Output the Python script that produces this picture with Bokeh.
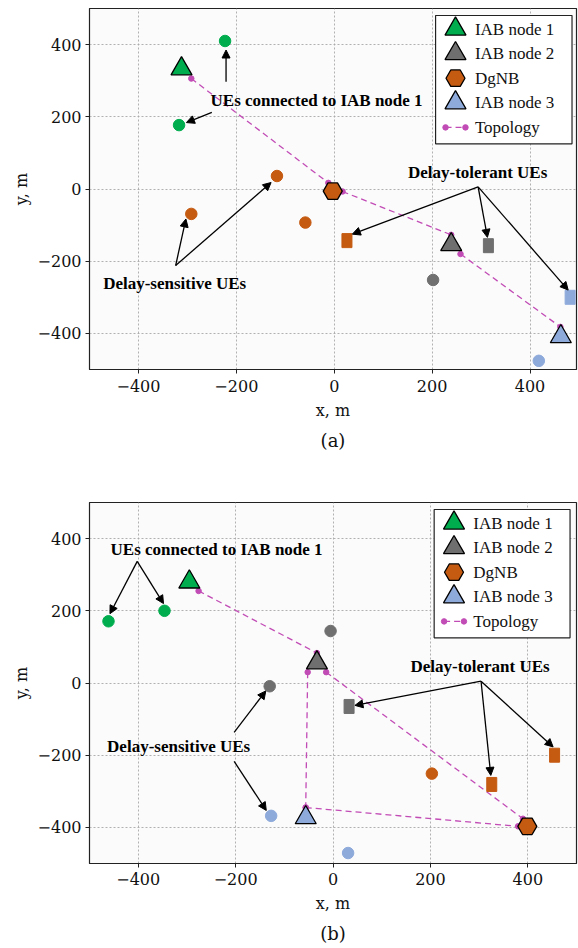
import numpy as np
from bokeh.plotting import figure
from bokeh.layouts import column
from bokeh.models import (ColumnDataSource, Arrow, NormalHead, Range1d, Title,
                          FixedTicker)
from bokeh.core.properties import value
from bokeh.embed import file_html
from bokeh.resources import INLINE

GREEN = "#00ad4e"
GRAY = "#6f6f6f"
ORANGE = "#c55a11"
BLUE = "#8eaadb"
TOPO = "#c24cb6"

TICKS = [-400, -200, 0, 200, 400]

# ---------------- panel (a) ----------------
a_node_names = ["IAB node 1", "IAB node 2", "DgNB", "IAB node 3"]
a_node_x = [-312, 239, -3, 463]
a_node_y = [333, -154, -6, -409]

a_circle_x = [-223, -317, -117, -292, -59, 202, 418]
a_circle_y = [410, 177, 36, -69, -93, -252, -476]
a_circle_c = [GREEN, GREEN, ORANGE, ORANGE, ORANGE, GRAY, BLUE]

a_square_x = [26, 315, 482]
a_square_y = [-143, -157, -300]
a_square_c = [ORANGE, GRAY, BLUE]

a_topo_x0 = [-292, 17, 258]
a_topo_y0 = [306, -7, -180]
a_topo_x1 = [-12, 239, 462]
a_topo_y1 = [17, -127, -382]

a_ann_text = ["UEs connected to IAB node 1", "Delay-sensitive UEs", "Delay-tolerant UEs"]
a_ann_x = [-36, -326, 293]
a_ann_y = [244, -262, 46]

a_arrow_x0 = [-221, -250, -324, -324, 294, 294, 294]
a_arrow_y0 = [297, 212, -212, -212, 6, 6, 6]
a_arrow_x1 = [-221, -302, -303, -129, 37, 313, 478]
a_arrow_y1 = [385, 184, -83, 18, -125, -134, -280]

# ---------------- panel (b) ----------------
b_node_names = ["IAB node 1", "IAB node 2", "DgNB", "IAB node 3"]
b_node_x = [-295, -33, 399, -56]
b_node_y = [280, 56, -397, -373]

b_circle_x = [-461, -346, -130, -5, 203, -127, 31]
b_circle_y = [171, 200, -9, 144, -251, -368, -471]
b_circle_c = [GREEN, GREEN, GRAY, GRAY, ORANGE, BLUE, BLUE]

b_square_x = [33, 326, 455]
b_square_y = [-65, -281, -200]
b_square_c = [GRAY, ORANGE, ORANGE]

b_topo_x0 = [-276, -14, -52, -56]
b_topo_y0 = [255, 30, 30, -345]
b_topo_x1 = [-33, 390, -56, 380]
b_topo_y1 = [83, -376, -345, -397]

b_ann_text = ["UEs connected to IAB node 1", "Delay-sensitive UEs", "Delay-tolerant UEs"]
b_ann_x = [-239, -317, 302]
b_ann_y = [370, -175, 47]

b_arrow_x0 = [-402, -402, -203, -203, 304, 304, 304]
b_arrow_y0 = [337, 337, -137, -217, 5, 5, 5]
b_arrow_x1 = [-458, -348, -138, -137, 45, 324, 452]
b_arrow_y1 = [192, 220, -22, -353, -62, -256, -177]

LEGEND_LABELS = ["IAB node 1", "IAB node 2", "DgNB", "IAB node 3", "Topology"]
NODE_COLORS = [GREEN, GRAY, ORANGE, BLUE]
NODE_MARKERS = ["triangle", "triangle", "hex", "triangle"]
NODE_SIZES = [21, 21, 19, 21]

SERIF_TICK = "DejaVu Serif"
SERIF_TXT = "Liberation Serif"


def make_panel(node_x, node_y, circ_x, circ_y, circ_c, sq_x, sq_y, sq_c,
               tx0, ty0, tx1, ty1, ann_text, ann_x, ann_y,
               ax0, ay0, ax1, ay1, caption,
               width, height, bl, bt, fw, fh, x_end,
               lab_so, axlab_so, cap_so):
    p = figure(width=width, height=height,
               x_range=Range1d(-500, x_end), y_range=Range1d(-500, 500),
               output_backend="svg", toolbar_location=None,
               min_border_left=bl, min_border_right=width - bl - fw,
               min_border_top=bt, min_border_bottom=height - bt - fh)
    p.extra_x_ranges = {"px": Range1d(0, fw)}
    p.extra_y_ranges = {"py": Range1d(0, fh)}
    p.background_fill_color = "#fbfbfb"
    p.border_fill_color = "white"
    p.outline_line_color = "#222222"
    p.outline_line_width = 1.2

    for ax in (p.xaxis[0], p.yaxis[0]):
        ax.ticker = FixedTicker(ticks=TICKS)
        ax.major_label_text_font = SERIF_TICK
        ax.major_label_text_font_size = "16px"
        ax.major_label_text_color = "#111111"
        ax.axis_label_text_font = SERIF_TICK
        ax.axis_label_text_font_size = "16px"
        ax.axis_label_text_font_style = "normal"
        ax.axis_label_text_color = "#111111"
        ax.major_tick_in = 0
        ax.major_tick_out = 4
        ax.minor_tick_line_color = None
        ax.axis_line_color = "#222222"
        ax.major_tick_line_color = "#222222"
        ax.major_label_standoff = 4
        ax.axis_label_standoff = 4
    p.xaxis[0].major_label_standoff = lab_so
    p.xaxis[0].axis_label_standoff = axlab_so
    p.xaxis[0].axis_label = "x, m"
    p.yaxis[0].axis_label = "y, m"
    p.yaxis[0].major_label_orientation = "horizontal"
    p.xaxis[0].major_label_overrides = {t: str(t).replace("-", "\u2212") for t in TICKS}
    p.yaxis[0].major_label_overrides = {t: str(t).replace("-", "\u2212") for t in TICKS}

    for g in (p.xgrid[0], p.ygrid[0]):
        g.ticker = FixedTicker(ticks=TICKS)
        g.grid_line_color = "#a8a8a8"
        g.grid_line_dash = "2 2"
        g.grid_line_width = 0.9

    # topology
    for i in range(len(tx0)):
        p.line([tx0[i], tx1[i]], [ty0[i], ty1[i]], line_color=TOPO,
               line_width=1.3, line_dash="6 4")
    p.scatter(tx0 + tx1, ty0 + ty1, size=5.5, fill_color=TOPO, line_color=TOPO)

    # nodes
    p.scatter(x="x", y="y", marker="m", size="s", fill_color="c",
              line_color="black", line_width=1.3,
              source=ColumnDataSource(dict(x=node_x, y=node_y, m=NODE_MARKERS,
                                           s=NODE_SIZES, c=NODE_COLORS)))
    # UEs
    p.scatter(x="x", y="y", marker="circle", size=11.5, fill_color="c",
              line_color="c",
              source=ColumnDataSource(dict(x=circ_x, y=circ_y, c=circ_c)))
    p.rect(x="x", y="y", width=10, height=14, width_units="screen",
           height_units="screen", fill_color="c", line_color="c",
           source=ColumnDataSource(dict(x=sq_x, y=sq_y, c=sq_c)))

    # arrows
    p.add_layout(Arrow(end=NormalHead(size=8, fill_color="black", line_color="black",
                                      line_width=1),
                       x_start="x0", y_start="y0", x_end="x1", y_end="y1",
                       line_color="black", line_width=1.3,
                       source=ColumnDataSource(dict(x0=ax0, y0=ay0, x1=ax1, y1=ay1))))
    # annotation texts
    p.text(x=ann_x, y=ann_y, text=ann_text, text_font=value(SERIF_TXT),
           text_font_size="17px", text_font_style="bold", text_color="black",
           text_align="center", text_baseline="middle")

    # legend (drawn in frame pixel coordinates)
    lleft, lright, ltop, lbot = 347.5, 484.5, 7.0, 135.3
    p.quad(left=[lleft], right=[lright], top=[fh - ltop], bottom=[fh - lbot],
           fill_color="white", line_color="#222222", line_width=1.2,
           x_range_name="px", y_range_name="py")
    row_y = [fh - (20.5 + i * 24.6) for i in range(len(LEGEND_LABELS))]
    gx = lleft + 20
    p.scatter(x=[gx] * 4, y=row_y[:4], marker=NODE_MARKERS, size=NODE_SIZES,
              fill_color=NODE_COLORS, line_color="black", line_width=1.3,
              x_range_name="px", y_range_name="py")
    p.line([gx - 10, gx + 10], [row_y[4]] * 2, line_color=TOPO, line_width=1.3,
           line_dash="6 4", x_range_name="px", y_range_name="py")
    p.scatter([gx - 10, gx + 10], [row_y[4]] * 2, size=5.5, fill_color=TOPO,
              line_color=TOPO, x_range_name="px", y_range_name="py")
    p.text(x=[lleft + 39.5] * 5, y=row_y, text=LEGEND_LABELS,
           text_font=value(SERIF_TXT), text_font_size="17px", text_color="#111111",
           text_align="left", text_baseline="middle",
           x_range_name="px", y_range_name="py")

    t = Title(text=caption, align="center", text_font=SERIF_TICK,
              text_font_size="18px", text_font_style="normal", text_color="#111111",
              standoff=cap_so)
    p.add_layout(t, "below")
    return p


pa = make_panel(a_node_x, a_node_y, a_circle_x, a_circle_y, a_circle_c,
                a_square_x, a_square_y, a_square_c,
                a_topo_x0, a_topo_y0, a_topo_x1, a_topo_y1,
                a_ann_text, a_ann_x, a_ann_y,
                a_arrow_x0, a_arrow_y0, a_arrow_x1, a_arrow_y1, "(a)",
                width=578, height=470, bl=89, bt=8, fw=489, fh=361, x_end=495,
                lab_so=6, axlab_so=6, cap_so=10)

pb = make_panel(b_node_x, b_node_y, b_circle_x, b_circle_y, b_circle_c,
                b_square_x, b_square_y, b_square_c,
                b_topo_x0, b_topo_y0, b_topo_x1, b_topo_y1,
                b_ann_text, b_ann_x, b_ann_y,
                b_arrow_x0, b_arrow_y0, b_arrow_x1, b_arrow_y1, "(b)",
                width=578, height=478, bl=85, bt=32, fw=491, fh=361, x_end=500,
                lab_so=5, axlab_so=6, cap_so=10)

layout = column(pa, pb, spacing=0)
open("out.html", "w").write(file_html(layout, INLINE))
